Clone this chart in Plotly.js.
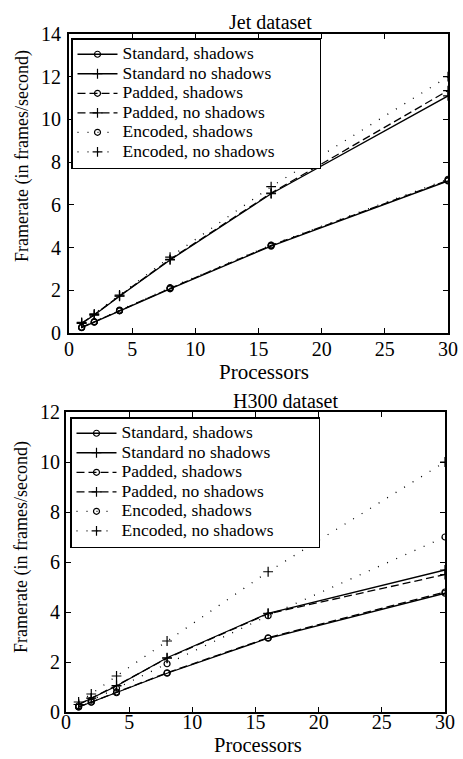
<!DOCTYPE html>
<html>
<head>
<meta charset="utf-8">
<script src="https://cdn.plot.ly/plotly-3.0.1.min.js"></script>
<style>
html,body{margin:0;padding:0;background:#fff;}
#chart{width:463px;height:759px;}
</style>
</head>
<body>
<div id="chart"></div>
<script>
// ---- data ----
const processors = [1, 2, 4, 8, 16, 30];
const seriesNames = [
  "Standard, shadows",
  "Standard no shadows",
  "Padded, shadows",
  "Padded, no shadows",
  "Encoded, shadows",
  "Encoded, no shadows"
];
// Jet dataset (frames/second)
const jetStdShadows   = [0.25, 0.51, 1.04, 2.07, 4.07, 7.12];
const jetStdNoShadows = [0.45, 0.84, 1.72, 3.42, 6.52, 11.10];
const jetPadShadows   = [0.26, 0.52, 1.05, 2.09, 4.10, 7.15];
const jetPadNoShadows = [0.46, 0.86, 1.74, 3.45, 6.55, 11.35];
const jetEncShadows   = [0.27, 0.53, 1.07, 2.12, 4.12, 7.20];
const jetEncNoShadows = [0.50, 0.90, 1.78, 3.55, 6.85, 12.00];
// H300 dataset (frames/second)
const h300StdShadows   = [0.20, 0.39, 0.77, 1.55, 2.95, 4.75];
const h300StdNoShadows = [0.30, 0.55, 1.04, 2.17, 3.95, 5.68];
const h300PadShadows   = [0.20, 0.40, 0.80, 1.57, 2.97, 4.80];
const h300PadNoShadows = [0.30, 0.56, 1.06, 2.15, 3.93, 5.50];
const h300EncShadows   = [0.25, 0.47, 0.95, 1.93, 3.85, 7.00];
const h300EncNoShadows = [0.40, 0.72, 1.44, 2.84, 5.61, 10.00];
const xTicks = [0, 5, 10, 15, 20, 25, 30];
const jetYTicks = [0, 2, 4, 6, 8, 10, 12, 14];
const h300YTicks = [0, 2, 4, 6, 8, 10, 12];

// ---- styles ----
const FONT = "'Liberation Serif', 'Times New Roman', 'DejaVu Serif', serif";
const styles = [
  {dash: "solid",    symbol: "circle-open",     size: 6},
  {dash: "solid",    symbol: "cross-thin-open", size: 7},
  {dash: "8px,4px",  symbol: "circle-open",     size: 6},
  {dash: "8px,4px",  symbol: "cross-thin-open", size: 7},
  {dash: "1px,9px",  symbol: "circle-open",     size: 6},
  {dash: "1px,9px",  symbol: "cross-thin-open", size: 7}
];
const legendPad = "&nbsp;".repeat(9);

function makeTraces(seriesList, xa, ya, legendId) {
  return seriesList.map((vals, i) => ({
    type: "scatter",
    mode: "lines+markers",
    x: processors,
    y: vals,
    xaxis: xa,
    yaxis: ya,
    legend: legendId,
    name: '<span style="font-size:17.5px">' + seriesNames[i] + legendPad + '</span>',
    line: {color: "black", width: 1.3, dash: styles[i].dash},
    marker: {symbol: styles[i].symbol, size: styles[i].size, color: "black",
             line: {color: "black", width: 1.2}},
    hoverinfo: "x+y"
  }));
}

const traces = [].concat(
  makeTraces([jetStdShadows, jetStdNoShadows, jetPadShadows, jetPadNoShadows, jetEncShadows, jetEncNoShadows], "x", "y", "legend"),
  makeTraces([h300StdShadows, h300StdNoShadows, h300PadShadows, h300PadNoShadows, h300EncShadows, h300EncNoShadows], "x2", "y2", "legend2")
);

const W = 463, H = 759;
const px = v => v / W;
const py = v => 1 - v / H;

function axisBase() {
  return {
    showline: true, linecolor: "black", linewidth: 2, mirror: "ticks",
    ticks: "inside", ticklen: 5, tickwidth: 1, tickcolor: "black",
    showgrid: false, zeroline: false,
    tickfont: {family: FONT, size: 20, color: "black"},
    automargin: false
  };
}

const legendBase = {
  xanchor: "left", yanchor: "top",
  bgcolor: "white", bordercolor: "black", borderwidth: 1.5,
  font: {family: FONT, size: 12.7, color: "black"},
  itemwidth: 40, tracegroupgap: 0
};

function ann(text, x, y, size, angle) {
  return {text: text, xref: "paper", yref: "paper", x: px(x), y: py(y),
          xanchor: "center", yanchor: "middle", showarrow: false, textangle: angle || 0,
          font: {family: FONT, size: size, color: "black"}};
}

const layout = {
  width: W, height: H,
  margin: {l: 0, r: 0, t: 0, b: 0},
  paper_bgcolor: "white", plot_bgcolor: "white",
  font: {family: FONT, color: "black"},
  showlegend: true,
  xaxis: Object.assign(axisBase(), {
    domain: [px(69), px(448)], anchor: "y", range: [0, 30],
    tickvals: xTicks, ticklabelstandoff: -3
  }),
  yaxis: Object.assign(axisBase(), {
    domain: [py(333), py(34)], anchor: "x", range: [0, 14],
    tickvals: jetYTicks, ticklabelstandoff: 2
  }),
  xaxis2: Object.assign(axisBase(), {
    domain: [px(66), px(445)], anchor: "y2", range: [0, 30],
    tickvals: xTicks, ticklabelstandoff: -9
  }),
  yaxis2: Object.assign(axisBase(), {
    domain: [py(712), py(412)], anchor: "x2", range: [0, 12],
    tickvals: h300YTicks, ticklabelstandoff: 0
  }),
  legend: Object.assign({}, legendBase, {x: px(71), y: py(38)}),
  legend2: Object.assign({}, legendBase, {x: px(70), y: py(417)}),
  annotations: [
    ann("Jet dataset", 270, 22, 20),
    ann("H300 dataset", 285, 401, 20),
    ann("Processors", 264, 372, 21),
    ann("Processors", 258, 745, 20.5),
    ann("Framerate (in frames/second)", 22, 156, 18, -90),
    ann("Framerate (in frames/second)", 21, 547, 18, -90)
  ]
};

Plotly.newPlot("chart", traces, layout, {displayModeBar: false, staticPlot: true});
</script>
</body>
</html>
